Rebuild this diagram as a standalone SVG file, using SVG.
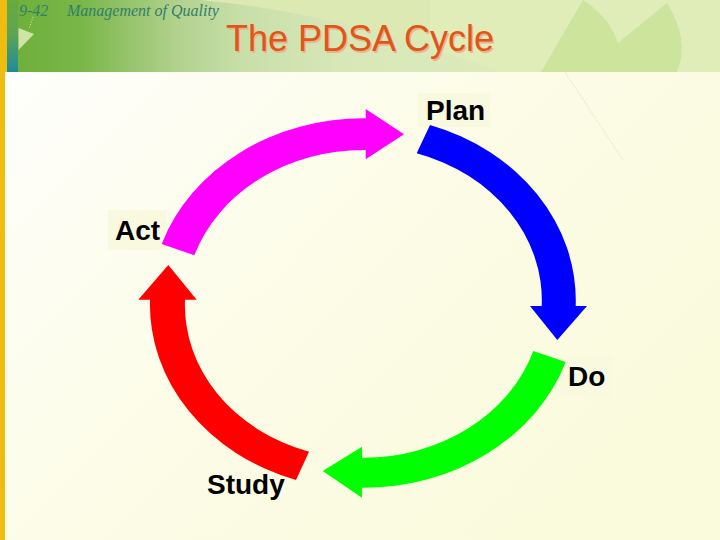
<svg xmlns="http://www.w3.org/2000/svg" width="720" height="540" viewBox="0 0 720 540">
<defs>
<linearGradient id="body" x1="0" y1="0" x2="1" y2="0.75"><stop offset="0" stop-color="#ffffff"/><stop offset="0.5" stop-color="#fcfce8"/><stop offset="1" stop-color="#fafadc"/></linearGradient>
<linearGradient id="band" gradientUnits="userSpaceOnUse" x1="18" y1="0" x2="720" y2="0"><stop offset="0" stop-color="#6fb03c"/><stop offset="0.09" stop-color="#79b648"/><stop offset="0.16" stop-color="#97c46d"/><stop offset="0.23" stop-color="#b3d28f"/><stop offset="0.32" stop-color="#c8dfa9"/><stop offset="0.46" stop-color="#d7e7b8"/><stop offset="1" stop-color="#e5f0bd"/></linearGradient>
<linearGradient id="strip" x1="0" y1="0" x2="0" y2="1"><stop offset="0" stop-color="#66ab3c"/><stop offset="0.45" stop-color="#5fa552"/><stop offset="1" stop-color="#1e8a9c"/></linearGradient>
<style>
.lab{font-family:"Liberation Sans",Arial,sans-serif;font-size:28px;font-weight:700;fill:#000}
.box{fill:#f9f9e0}
.hdr{font-family:"Liberation Serif","Times New Roman",serif;font-style:italic;font-size:16px;fill:#2f7f6b}
.ttl{font-family:"Liberation Sans",Arial,sans-serif;font-size:36px;fill:#e0561a;text-shadow:1.5px 1.5px 0 #e9b58e}
</style>
</defs>
<rect width="720" height="540" fill="url(#body)"/>
<rect width="720" height="72" fill="url(#band)"/>
<path d="M200 0Q310 10 430 48V0Z" fill="#dde9b2"/>
<path d="M430 48Q470 60 500 72H720V0H430Z" fill="#e0edb9"/>
<path d="M541 72L583 0Q610 18 618 43L667 3Q690 40 677 72Z" fill="#cde49c"/>
<path d="M18.5 28L34 34L18.5 50Z" fill="#cfe3a6"/>
<path d="M33 17L29 29" fill="none" stroke="#e8f2c8" stroke-width="0.8" stroke-dasharray="1 1.5"/>
<path d="M565 72L623 160" fill="none" stroke="#c9c9b0" stroke-width="0.7" stroke-dasharray="1 1.5"/>
<rect x="7" y="0" width="11" height="72" fill="url(#strip)"/>
<rect x="0" y="0" width="7" height="72" fill="#efbd10"/>
<rect x="0" y="72" width="5" height="468" fill="#efbd10"/>
<text class="hdr" x="19" y="16">9-42</text>
<text class="hdr" x="67" y="16">Management of Quality</text>
<g id="title"><text class="ttl" x="226" y="51">The PDSA Cycle</text></g>
<g id="plan"><rect class="box" x="418" y="93" width="72" height="34"/><text class="lab" x="426" y="120">Plan</text></g>
<g id="do"><rect class="box" x="560" y="355" width="52" height="42"/><text class="lab" x="568" y="386">Do</text></g>
<g id="study"><text class="lab" x="207" y="494">Study</text></g>
<g id="act"><rect class="box" x="108" y="210" width="59" height="40"/><text class="lab" x="115" y="240">Act</text></g>
<g id="connectors">
<path id="act-plan" fill="#ff00ff" d="M161.7 244A213 185 0 0 1 365.7 118.3V109L404 134.3L365.7 159.3V150A178.3 153.8 0 0 0 194.3 255.3Z"/>
<path id="plan-do" fill="#0000ff" d="M430 125A213 185 0 0 1 575.7 306H587L557.3 340L530 306H541.7A178.3 153.8 0 0 0 416.7 153.3Z"/>
<path id="do-study" fill="#00ff00" d="M565.7 362A213 185 0 0 1 362 487.7V497.7L322.7 471L362 446.7V457.7A178.3 153.8 0 0 0 533.3 351Z"/>
<path id="study-act" fill="#ff0000" d="M296 480A213 185 0 0 1 150 299.7H138.3L168.3 265L196.7 299.7H185A178.3 153.8 0 0 0 309 451.7Z"/>
</g>
</svg>
